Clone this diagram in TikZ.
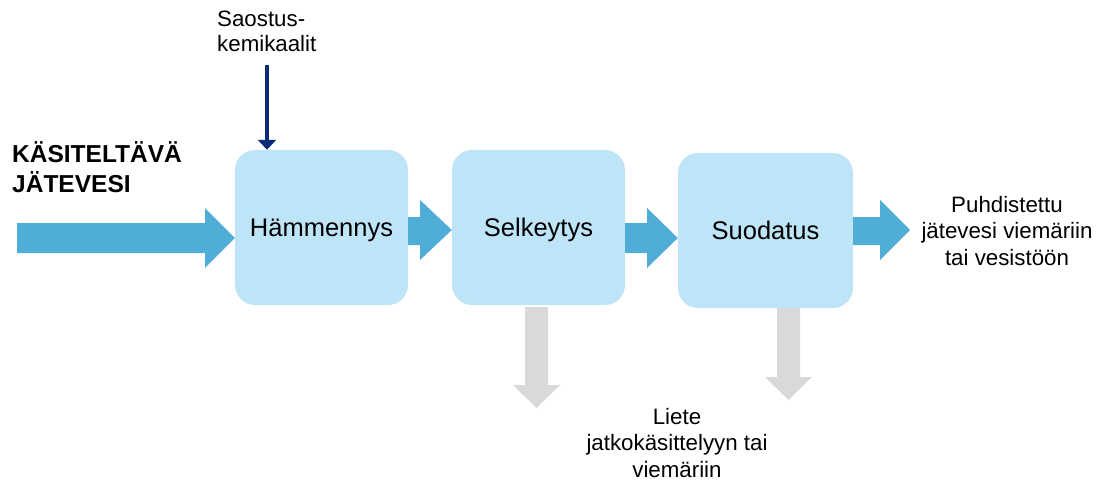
\documentclass[tikz,border=0pt]{standalone}
\usepackage{fontspec}
\setmainfont{Liberation Sans}
\usetikzlibrary{arrows.meta}
\definecolor{boxfill}{HTML}{BDE4F7}
\definecolor{flowblue}{HTML}{50ADD7}
\definecolor{sludge}{HTML}{D9D9D9}
\definecolor{navy}{HTML}{0B2A78}
\begin{document}
\begin{tikzpicture}[x=1pt,y=-1pt,
  stage/.style={fill=boxfill,draw=none,rounded corners=20pt,minimum width=173pt,minimum height=155pt,
    inner sep=0pt,font=\fontsize{25.5}{30}\selectfont,text height=18.2pt,text depth=0pt},
  bodytext/.style={font=\fontsize{22.3}{26.5}\selectfont,inner sep=0pt,align=center},
  flow/.style={fill=flowblue},
  sl/.style={fill=sludge}]
\useasboundingbox (0,0) rectangle (1107,481);
% boxes
\node[stage] (ham) at (321.5,227.5) {Hämmennys};
\node[stage] (sel) at (538.5,227.5) {Selkeytys};
\node[stage,minimum width=175pt] (suo) at (765.5,230.5) {Suodatus};
% input arrow
\fill[flow] (17,223) -- (205,223) -- (205,208) -- (ham.west |- 0,238) -- (205,268) -- (205,253) -- (17,253) -- cycle;
% ham -> sel
\fill[flow] (ham.east |- 0,217) -- (420,217) -- (420,200) -- (sel.west |- 0,230) -- (420,260) -- (420,245) -- (ham.east |- 0,245) -- cycle;
% sel -> suo
\fill[flow] (sel.east |- 0,223) -- (647,223) -- (647,208) -- (suo.west |- 0,238) -- (647,268) -- (647,253) -- (sel.east |- 0,253) -- cycle;
% output arrow
\fill[flow] (suo.east |- 0,217) -- (880,217) -- (880,200) -- (910,230) -- (880,260) -- (880,245) -- (suo.east |- 0,245) -- cycle;
% sludge arrows
\fill[sl] (525,307) -- (548,307) -- (548,385) -- (560,385) -- (536.5,408) -- (513,385) -- (525,385) -- cycle;
\fill[sl] (777,308) -- (800,308) -- (800,377) -- (812,377) -- (788.5,400) -- (765,377) -- (777,377) -- cycle;
% chemicals
\node[bodytext,align=left,anchor=base west,font=\fontsize{22.3}{25}\selectfont] (chem) at (217,52) {Saostus-\\kemikaalit};
\coordinate (chemtop) at (267,65);
\draw[navy,line width=3.2pt,-{Triangle[width=18pt,length=10pt]}] (chemtop) -- (chemtop |- ham.north);
% texts
\node[font=\fontsize{24.5}{30}\selectfont\bfseries,inner sep=0pt,align=left,anchor=base west] (in) at (12,193) {KÄSITELTÄVÄ\\JÄTEVESI};
\node[bodytext,anchor=base] (out) at (1007,265) {Puhdistettu\\jätevesi viemäriin\\tai vesistöön};
\node[bodytext,font=\fontsize{22.3}{26.5}\selectfont,anchor=base] (liete) at (677,477) {Liete\\jatkokäsittelyyn tai\\viemäriin};
\end{tikzpicture}
\end{document}
